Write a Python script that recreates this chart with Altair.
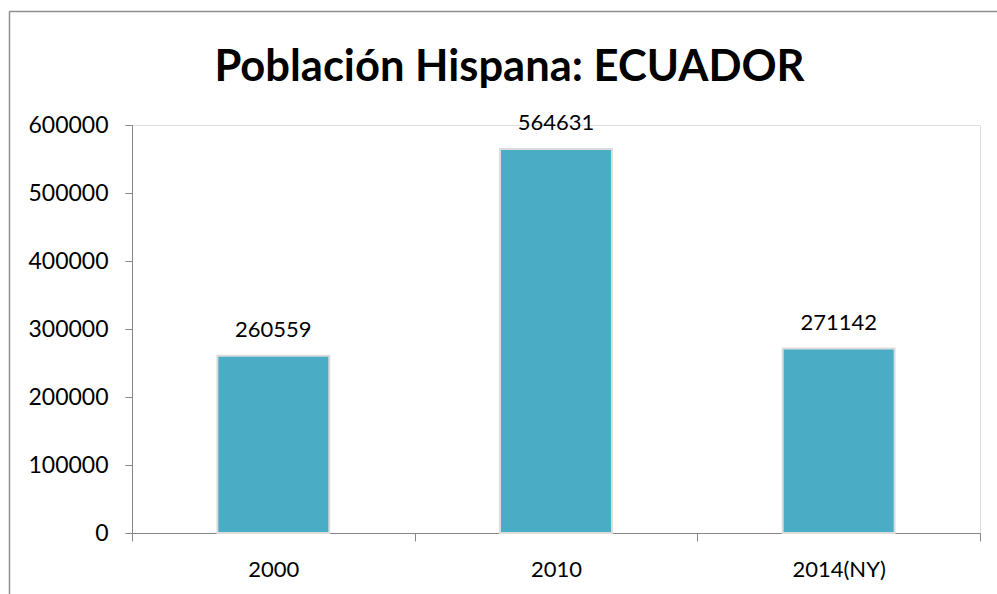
import altair as alt
import pandas as pd

categories = ["2000", "2010", "2014(NY)"]
values = [260559, 564631, 271142]
title_text = "Población Hispana: ECUADOR"

df = pd.DataFrame({"year": categories, "pop": values})

FONT = "Lato"
GRAY = "#868686"

x_enc = alt.X("year:N", sort=categories,
              scale=alt.Scale(paddingInner=0, paddingOuter=0),
              axis=alt.Axis(title=None, labelAngle=0, tickBand="extent",
                            tickSize=8, labelPadding=18, labelFontSize=22,
                            labelFont=FONT, labelColor="#000000",
                            domainColor=GRAY, tickColor=GRAY, grid=False))
y_enc = alt.Y("pop:Q", scale=alt.Scale(domain=[0, 600000]),
              axis=alt.Axis(title=None, values=[0, 100000, 200000, 300000, 400000, 500000, 600000],
                            format="d", tickSize=7, labelPadding=17, labelFontSize=23,
                            labelFont=FONT, labelColor="#000000",
                            domainColor=GRAY, tickColor=GRAY, grid=False))

bars = alt.Chart(df).mark_bar(
    width=alt.RelativeBandSize(0.396), color="#4BACC6",
    stroke="#dcdcdc", strokeWidth=2
).encode(x=x_enc, y=y_enc)

labels = alt.Chart(df).mark_text(
    baseline="bottom", dy=-14, fontSize=22, font=FONT, color="#000000"
).encode(x=alt.X("year:N", sort=categories), y="pop:Q", text=alt.Text("pop:Q", format="d"))

frame_data = alt.Data(values=[{"k": 1, "t": title_text}])
left_border = alt.Chart(frame_data).mark_rule(color="#8e8e8e", strokeWidth=1.5).encode(
    x=alt.value(-122.5), y=alt.value(-113.5), y2=alt.value(480))
top_border = alt.Chart(frame_data).mark_rule(color="#8e8e8e", strokeWidth=1.5).encode(
    x=alt.value(-122.5), x2=alt.value(880), y=alt.value(-113.5))
title = alt.Chart(frame_data).mark_text(
    font=FONT, fontSize=43.5, fontWeight="bold", color="#000000",
    align="center", baseline="middle"
).encode(x=alt.value(377.5), y=alt.value(-57), text="t:N")

chart = alt.layer(bars, labels, left_border, top_border, title).properties(
    width=848, height=408,
    autosize=alt.AutoSizeParams(type="none"),
    padding={"left": 132, "top": 125, "right": 17, "bottom": 61},
).configure_view(stroke="transparent", strokeWidth=0).configure(background="white")

chart.save("out.html", embed_options={"renderer": "svg", "actions": False})
